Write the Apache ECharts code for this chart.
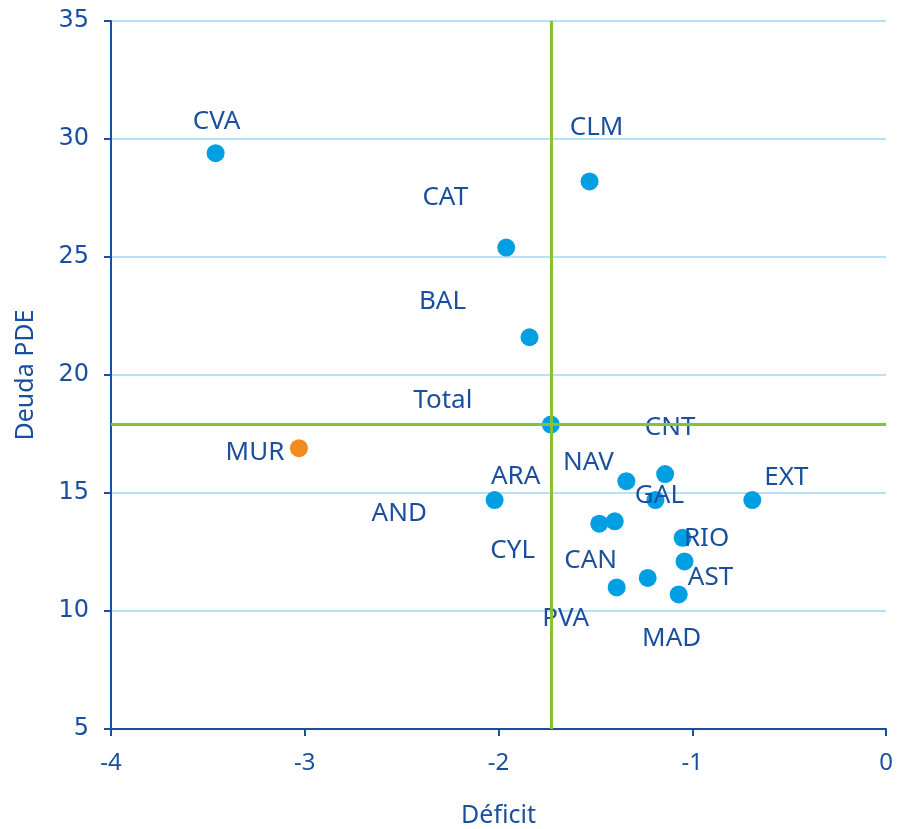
<!DOCTYPE html>
<html>
<head>
<meta charset="utf-8">
<script src="https://cdn.jsdelivr.net/npm/echarts@6/dist/echarts.min.js"></script>
<style>
  html, body { margin: 0; padding: 0; background: #fff; }
  #chart { width: 897px; height: 829px; }
</style>
</head>
<body>
<div id="chart"></div>
<script>
// regions, deficit (x) and debt (y)
const regions = ['CVA', 'CLM', 'CAT', 'BAL', 'Total', 'MUR', 'ARA', 'NAV', 'CNT', 'GAL',
  'EXT', 'AND', 'CYL', 'RIO', 'AST', 'CAN', 'PVA', 'MAD'];
const deficit = [-3.46, -1.53, -1.96, -1.84, -1.73, -3.03, -2.02, -1.34, -1.14, -1.19,
  -0.69, -1.48, -1.40, -1.05, -1.04, -1.23, -1.39, -1.07];
const deuda = [29.4, 28.2, 25.4, 21.6, 17.9, 16.9, 14.7, 15.5, 15.8, 14.7,
  14.7, 13.7, 13.8, 13.1, 12.1, 11.4, 11.0, 10.7];
const highlighted = ['MUR'];
const totalName = 'Total';

// label offsets (px) from each point, as placed in the original chart
const labelOffsets = {
  CVA: [1, -32], CLM: [7, -54], CAT: [-61, -50], BAL: [-87, -36], Total: [-108, -24],
  MUR: [-44, 4], ARA: [21, -23], NAV: [-38, -19], CNT: [5, -47], GAL: [4, -4],
  EXT: [34, -22], AND: [-200, -10], CYL: [-102, 29], RIO: [24, 1], AST: [26, 16],
  CAN: [-57, -17], PVA: [-51, 31], MAD: [-7, 44]
};

const axisBlue = '#1a4f9e';
const pointBlue = '#009fe3';
const orange = '#f18a1f';
const green = '#86c232';

const totalIdx = regions.indexOf(totalName);

const points = regions.map((name, i) => ({
  name,
  value: [deficit[i], deuda[i]],
  itemStyle: { color: highlighted.includes(name) ? orange : pointBlue, opacity: 1 },
  label: { offset: labelOffsets[name] }
}));

const chart = echarts.init(document.getElementById('chart'));
chart.setOption({
  backgroundColor: '#fff',
  animation: false,
  grid: { left: 111, right: 11, top: 21, bottom: 100, outerBoundsMode: 'none', containLabel: false },
  xAxis: {
    type: 'value',
    min: -4,
    max: 0,
    interval: 1,
    name: 'Déficit',
    nameLocation: 'middle',
    nameGap: 74,
    nameTextStyle: { color: axisBlue, fontSize: 25, fontFamily: 'Noto Sans' },
    axisLine: { onZero: false, lineStyle: { color: axisBlue, width: 2 } },
    axisTick: { show: true, length: 7, lineStyle: { color: axisBlue, width: 2 } },
    axisLabel: { color: axisBlue, fontSize: 24, fontFamily: 'Noto Sans', margin: 22 },
    splitLine: { show: false }
  },
  yAxis: {
    type: 'value',
    min: 5,
    max: 35,
    interval: 5,
    name: 'Deuda PDE',
    nameLocation: 'middle',
    nameGap: 73,
    nameTextStyle: { color: axisBlue, fontSize: 25, fontFamily: 'Noto Sans' },
    axisLine: { show: true, onZero: false, lineStyle: { color: axisBlue, width: 2 } },
    axisTick: { show: true, length: 7, lineStyle: { color: axisBlue, width: 2 } },
    axisLabel: { color: axisBlue, fontSize: 24, fontFamily: 'DejaVu Sans', margin: 22 },
    splitLine: { show: true, lineStyle: { color: '#b5e2f5', width: 2 } }
  },
  series: [{
    type: 'scatter',
    symbolSize: 18,
    data: points,
    label: {
      show: true,
      position: 'inside',
      formatter: '{b}',
      color: axisBlue,
      fontSize: 26,
      fontFamily: 'Noto Sans',
      align: 'center',
      verticalAlign: 'middle'
    },
    markLine: {
      silent: true,
      symbol: 'none',
      label: { show: false },
      lineStyle: { color: green, width: 3, type: 'solid', opacity: 1 },
      data: [
        { xAxis: deficit[totalIdx] },
        { yAxis: deuda[totalIdx] }
      ]
    }
  }]
});
</script>
</body>
</html>
